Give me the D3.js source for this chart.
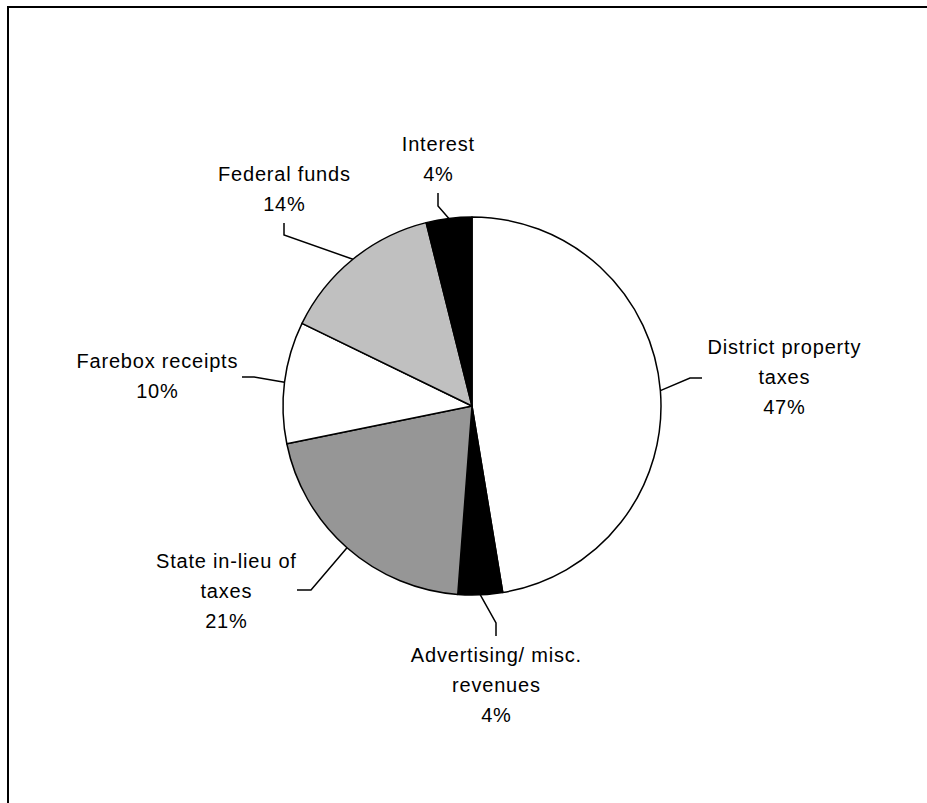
<!DOCTYPE html>
<html>
<head>
<meta charset="utf-8">
<script src="https://cdn.jsdelivr.net/npm/d3@7"></script>
<style>
  html, body { margin: 0; padding: 0; background: #fff; }
  svg { display: block; }
</style>
</head>
<body>
<svg id="chart" width="927" height="803"></svg>
<script>
// ---- Data ----
const categories = ["District property taxes", "Advertising/ misc. revenues", "State in-lieu of taxes", "Farebox receipts", "Federal funds", "Interest"];
const values = [47.4, 3.8, 20.6, 10.4, 13.9, 3.9];
const labelLines = [
  ["District property", "taxes"],
  ["Advertising/ misc.", "revenues"],
  ["State in-lieu of", "taxes"],
  ["Farebox receipts"],
  ["Federal funds"],
  ["Interest"]
];

// ---- Style / layout ----
const fills = ["#ffffff", "#000000", "#969696", "#ffffff", "#c0c0c0", "#000000"];
const cx = 472, cy = 406, R = 189;
const fontSize = 20, lineH = 30;
// label layout: text centre x, first baseline, elbow point, end point of the leader
const labelLayout = [
  { tx: 784, ty: 354, elbow: [690, 378], end: [702, 378] },
  { tx: 496, ty: 662, elbow: [496, 623], end: [496, 636] },
  { tx: 226, ty: 568, elbow: [311, 590], end: [297, 590] },
  { tx: 157, ty: 368, elbow: [254, 377], end: [242, 377] },
  { tx: 284, ty: 181, elbow: [284, 235], end: [284, 223] },
  { tx: 438, ty: 151, elbow: [438, 206], end: [438, 193] }
];

const svg = d3.select("#chart");

// frame
svg.append("rect")
  .attr("x", 8).attr("y", 7)
  .attr("width", 1000).attr("height", 1000)
  .attr("fill", "none").attr("stroke", "#000").attr("stroke-width", 2);

const data = categories.map((c, i) => ({ name: c, value: values[i], i }));
const pie = d3.pie().value(d => d.value).sort(null);
const arcs = pie(data);
const arcGen = d3.arc().innerRadius(0).outerRadius(R);

const g = svg.append("g").attr("transform", `translate(${cx},${cy})`);
g.selectAll("path.slice")
  .data(arcs)
  .join("path")
  .attr("class", "slice")
  .attr("d", arcGen)
  .attr("fill", d => fills[d.data.i])
  .attr("stroke", "#000")
  .attr("stroke-width", 1.5)
  .attr("stroke-linejoin", "round");

// leader lines
arcs.forEach(a => {
  const mid = (a.startAngle + a.endAngle) / 2;
  const px = cx + R * Math.sin(mid), py = cy - R * Math.cos(mid);
  const L = labelLayout[a.data.i];
  svg.append("polyline")
    .attr("points", [[px, py], L.elbow, L.end].map(p => p.join(",")).join(" "))
    .attr("fill", "none").attr("stroke", "#000").attr("stroke-width", 1.5);
});

// labels
arcs.forEach(a => {
  const i = a.data.i;
  const L = labelLayout[i];
  const lines = labelLines[i].concat([Math.round(a.data.value) + "%"]);
  const t = svg.append("text")
    .attr("text-anchor", "middle")
    .attr("font-family", "'Liberation Sans', Arial, sans-serif")
    .attr("font-size", fontSize)
    .attr("letter-spacing", "0.8px")
    .attr("fill", "#000");
  lines.forEach((ln, k) => {
    t.append("tspan").attr("x", L.tx + 0.4).attr("y", L.ty + k * lineH).text(ln);
  });
});
</script>
</body>
</html>
